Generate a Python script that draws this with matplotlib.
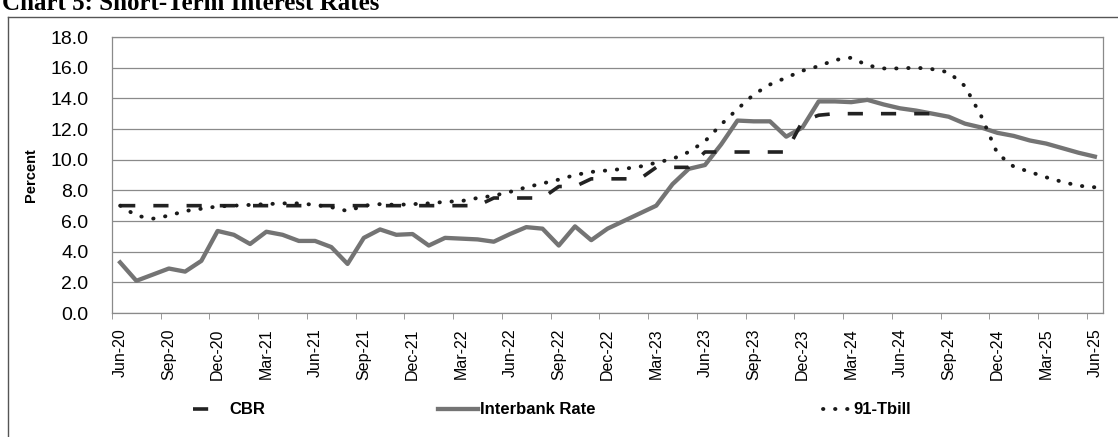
import numpy as np
import matplotlib
matplotlib.use("Agg")
from matplotlib import pyplot
from matplotlib.lines import Line2D

# monthly observations, Jun-20 .. Jun-25 (61 months)
months = np.arange(61)
tick_labels = ["Jun-20", "Sep-20", "Dec-20", "Mar-21", "Jun-21", "Sep-21", "Dec-21",
               "Mar-22", "Jun-22", "Sep-22", "Dec-22", "Mar-23", "Jun-23", "Sep-23",
               "Dec-23", "Mar-24", "Jun-24", "Sep-24", "Dec-24", "Mar-25", "Jun-25"]

cbr = [7.0] * 23 + [7.5, 7.5, 7.5, 7.5, 8.25, 8.25, 8.75, 8.75, 8.75, 8.75, 9.5, 9.5, 9.5,
                    10.5, 10.5, 10.5, 10.5, 10.5, 10.5, 12.5, 12.9,
                    13.0, 13.0, 13.0, 13.0, 13.0, 13.0, 13.0] + [np.nan] * 10

interbank = [3.3, 2.1, 2.5, 2.9, 2.7, 3.4, 5.35, 5.1, 4.5, 5.3,
             5.1, 4.7, 4.7, 4.3, 3.2, 4.9, 5.45, 5.1, 5.15, 4.4,
             4.9, 4.85, 4.8, 4.65, 5.15, 5.6, 5.5, 4.4, 5.65, 4.75,
             5.5, 6.0, 6.5, 7.0, 8.4, 9.4, 9.65, 11.0, 12.55, 12.5,
             12.5, 11.5, 12.1, 13.8, 13.8, 13.75, 13.9, 13.6, 13.35, 13.2,
             13.0, 12.8, 12.35, 12.1, 11.75, 11.55, 11.25, 11.05, 10.75, 10.45,
             10.2]

tbill = [7.0, 6.35, 6.15, 6.35, 6.65, 6.8, 6.95, 7.0, 7.05, 7.1,
         7.15, 7.15, 7.05, 6.9, 6.65, 7.0, 7.1, 7.05, 7.1, 7.15,
         7.25, 7.3, 7.5, 7.65, 7.9, 8.2, 8.45, 8.7, 9.0, 9.2,
         9.3, 9.4, 9.55, 9.8, 10.05, 10.5, 11.2, 12.3, 13.3, 14.25,
         14.9, 15.35, 15.8, 16.1, 16.5, 16.65, 16.15, 15.95, 15.95, 16.0,
         15.9, 15.7, 14.8, 12.85, 10.4, 9.55, 9.2, 8.85, 8.55, 8.3,
         8.2]

fig = pyplot.figure(figsize=(11.18, 4.37), dpi=100)
ax = fig.add_axes([112 / 1118, 1 - 313 / 437, 991 / 1118, 276 / 437])

grid_col = "#8a8a8a"
l_ib, = ax.plot(months, interbank, color="#747474", lw=3.1, solid_joinstyle="round",
                label="Interbank Rate", zorder=3)
l_cbr, = ax.plot(months, cbr, color="#222222", lw=2.6, linestyle=(0, (4.2, 5.0)),
                 label="CBR", zorder=4)
l_tb, = ax.plot(months, tbill, color="#1a1a1a", lw=2.8, linestyle=(0, (0.1, 3.0)),
                dash_capstyle="round", label="91-Tbill", zorder=4)

ax.set_xlim(-0.5, 60.5)
ax.set_ylim(0, 18)
ax.set_yticks(np.arange(0, 19, 2))
ax.set_yticklabels(["%.1f" % v for v in np.arange(0, 19, 2)], fontsize=14,
                   family="Liberation Sans")
ax.tick_params(axis="y", length=0, pad=17)
ax.yaxis.grid(True, color=grid_col, lw=0.9)
ax.set_axisbelow(True)

ax.set_xticks(np.arange(0, 61, 3))
ax.set_xticklabels(tick_labels, rotation=90, fontsize=11.5, family="Liberation Sans")
ax.set_xticks(np.arange(0, 61, 3) - 0.5, minor=True)
ax.tick_params(axis="x", which="major", length=0, pad=11)
ax.tick_params(axis="x", which="minor", length=4, color=grid_col, direction="out")

for s in ax.spines.values():
    s.set_color(grid_col)
    s.set_linewidth(0.9)

ax.set_ylabel("Percent", fontsize=10.5, fontweight="bold", family="Liberation Sans")
ax.yaxis.set_label_coords(-0.075, 0.5)

# legends, one per entry as in the original layout
lg_kw = dict(frameon=False, prop={"family": "Liberation Sans", "weight": "bold", "size": 12},
             loc="center left", borderaxespad=0, borderpad=0)
lg1 = fig.legend([l_cbr], ["CBR"], bbox_to_anchor=(193 / 1118, 27 / 437),
                 handlelength=1.5, handletextpad=0.7, **lg_kw)
lg2 = fig.legend([l_ib], ["Interbank Rate"], bbox_to_anchor=(438 / 1118, 27 / 437),
                 handlelength=2.4, handletextpad=0.1, **lg_kw)
lg3 = fig.legend([l_tb], ["91-Tbill"], bbox_to_anchor=(823 / 1118, 27 / 437),
                 handlelength=1.6, handletextpad=0.2, **lg_kw)

# outer chart frame and cut-off title
fig.add_artist(Line2D([8 / 1118, 8 / 1118], [0, 1 - 17 / 437], transform=fig.transFigure,
                      color="#555555", lw=1.0))
fig.add_artist(Line2D([8 / 1118, 1], [1 - 17 / 437, 1 - 17 / 437], transform=fig.transFigure,
                      color="#555555", lw=1.0))
fig.text(2 / 1118, 1 - 10 / 437, "Chart 5: Short-Term Interest Rates", family="Liberation Serif",
         fontweight="bold", fontsize=18, va="baseline", ha="left")

pyplot.savefig("out.png", dpi=100)
